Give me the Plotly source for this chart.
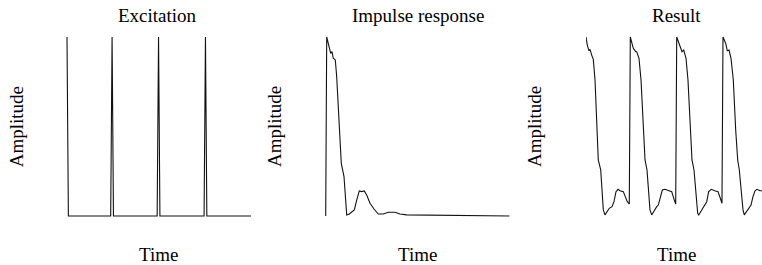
import plotly.graph_objects as go

# ---------------- data (time in ms, amplitude normalised 0..1) ----------------
titles = ["Excitation", "Impulse response", "Result"]
x_label = "Time"
y_label = "Amplitude"

exc_t = [0, 0.3, 9.5, 9.8, 10.1, 19.6, 19.9, 20.2, 29.8, 30.1, 30.4, 40]
exc_a = [1, 0, 0, 1, 0, 0, 1, 0, 0, 1, 0, 0]

imp_t = [0, 0.22, 1.09, 1.37, 1.65, 2.09, 2.39, 2.96, 3.39, 3.98, 4.57, 5.13,
         5.65, 6.22, 6.74, 7.30, 7.83, 8.39, 8.91, 9.63, 10.5, 11.43, 12.52,
         13.61, 15.07, 16.15, 17.6, 22.7, 40]
imp_a = [0.0, 1.0, 0.909, 0.918, 0.881, 0.872, 0.778, 0.480, 0.294, 0.220,
         0.006, 0.011, 0.024, 0.034, 0.089, 0.140, 0.136, 0.140, 0.117, 0.071,
         0.039, 0.011, 0.011, 0.021, 0.021, 0.011, 0.006, 0.004, 0.0]

res_t = [0.37, 0.65, 1.02, 1.24, 1.61, 1.96, 2.33, 2.70, 3.04, 3.57, 3.85, 4.13,
         4.50, 5.0, 5.43, 6.02, 6.46, 6.89, 7.33, 7.76, 8.48, 8.91, 9.35, 9.78,
         10.0, 10.65, 11.17, 11.39, 11.89, 12.33, 12.83, 13.2, 13.63, 13.91, 14.28,
         14.65, 15.22, 15.74, 16.09, 16.52, 16.96, 17.54, 18.26, 19.0, 19.57, 19.87,
         20.09, 20.87, 21.24, 21.61, 22.11, 22.54, 23.04, 23.41, 23.85, 24.28, 24.65,
         24.87, 25.59, 26.17, 26.61, 27.04, 27.61, 28.35, 29.07, 29.57, 29.93,
         30.15, 30.74, 31.09, 31.46, 31.89, 32.39, 32.91, 33.35, 33.7, 34.07, 34.5,
         34.78, 35.3, 35.8, 36.24, 36.67, 37.11, 37.54, 38.2, 38.63]
res_a = [1.0, 0.955, 0.923, 0.931, 0.899, 0.875, 0.760, 0.555, 0.313, 0.257, 0.164, 0.034,
         0.006, 0.024, 0.043, 0.052, 0.080, 0.136, 0.149, 0.141, 0.136, 0.108, 0.080, 0.067,
         1.0, 0.937, 0.918, 0.918, 0.881, 0.760, 0.480, 0.313, 0.257, 0.164, 0.034,
         0.006, 0.034, 0.052, 0.061, 0.099, 0.145, 0.149, 0.141, 0.136, 0.089, 0.067,
         1.0, 0.937, 0.918, 0.927, 0.881, 0.760, 0.480, 0.313, 0.257, 0.145, 0.015,
         0.006, 0.034, 0.056, 0.080, 0.136, 0.149, 0.141, 0.136, 0.099, 0.071,
         1.0, 0.964, 0.923, 0.927, 0.881, 0.760, 0.480, 0.313, 0.257, 0.164, 0.034,
         0.006, 0.024, 0.043, 0.061, 0.108, 0.141, 0.149, 0.141, 0.141]

# ---------------- layout constants ----------------
W, H = 762, 265
FONT = "Liberation Serif, Times New Roman, serif"
LINE = dict(color="#111111", width=1.1)

# panel pixel geometry: (left px, right px, x range)
panels = [
    (65.0, 251.0, [-0.435, 40]),
    (323.7, 509.7, [-0.435, 40]),
    (586.0, 762.0, [0.37, 38.63]),
]
y_dom = [(H - 218) / H, (H - 35) / H]
y_rng = [-0.0112, 1.0112]

title_x = [157.5, 417.5, 676.5]
time_x = [158.0, 417.5, 676.5]
amp_x = [16.3, 274.0, 534.0]

fig = go.Figure()
series = [(exc_t, exc_a), (imp_t, imp_a), (res_t, res_a)]
for i, (t, a) in enumerate(series):
    sfx = "" if i == 0 else str(i + 1)
    fig.add_trace(go.Scatter(x=t, y=a, mode="lines", line=LINE,
                             xaxis="x" + sfx, yaxis="y" + sfx,
                             hoverinfo="skip", showlegend=False))
    l, r, xr = panels[i]
    fig.layout["xaxis" + sfx] = dict(domain=[l / W, r / W], range=xr, visible=False,
                                     anchor="y" + sfx, fixedrange=True)
    fig.layout["yaxis" + sfx] = dict(domain=y_dom, range=y_rng, visible=False,
                                     anchor="x" + sfx, fixedrange=True)

annotations = []
for i in range(3):
    annotations.append(dict(text=titles[i], x=title_x[i] / W, y=(H - 15.6) / H,
                            xref="paper", yref="paper", showarrow=False,
                            xanchor="center", yanchor="middle",
                            font=dict(family=FONT, size=19, color="#000")))
    annotations.append(dict(text=x_label, x=time_x[i] / W, y=(H - 254.3) / H,
                            xref="paper", yref="paper", showarrow=False,
                            xanchor="center", yanchor="middle",
                            font=dict(family=FONT, size=19, color="#000")))
    annotations.append(dict(text=y_label, x=amp_x[i] / W, y=(H - 127) / H,
                            xref="paper", yref="paper", showarrow=False,
                            textangle=-90, xanchor="center", yanchor="middle",
                            font=dict(family=FONT, size=19, color="#000")))

fig.update_layout(width=W, height=H, margin=dict(l=0, r=0, t=0, b=0),
                  paper_bgcolor="white", plot_bgcolor="white",
                  annotations=annotations, showlegend=False)

fig.write_html("out.html", config={"displayModeBar": False},
               post_script="document.body.style.margin='0';document.body.style.padding='0';"
                           "document.body.style.overflow='hidden';")
